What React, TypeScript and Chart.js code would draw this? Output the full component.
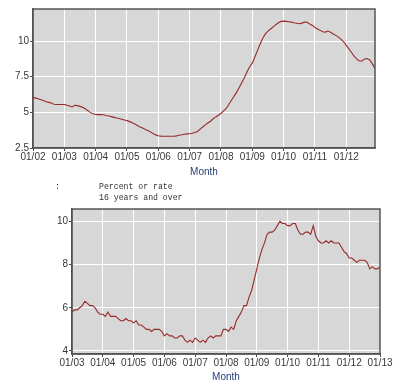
import React, { useEffect, useRef } from 'react';
import { Chart, registerables } from 'chart.js';

Chart.register(...registerables);

// ---------- Data ----------
function monthLabels(startYear: number, count: number): string[] {
  const out: string[] = [];
  for (let i = 0; i < count; i++) {
    const y = startYear + Math.floor(i / 12);
    const m = (i % 12) + 1;
    out.push(`${y}-${m < 10 ? '0' + m : m}`);
  }
  return out;
}

// Top chart: Jan 2002 - Dec 2012 (monthly)
const topMonths = monthLabels(2002, 132);
const topSeries = [
  // 2002
  6.05, 6.0, 5.95, 5.88, 5.83, 5.75, 5.7, 5.65, 5.57, 5.55, 5.55, 5.55,
  // 2003
  5.55, 5.5, 5.45, 5.38, 5.5, 5.47, 5.42, 5.35, 5.25, 5.12, 4.98, 4.9,
  // 2004
  4.85, 4.84, 4.84, 4.83, 4.78, 4.74, 4.7, 4.65, 4.6, 4.57, 4.52, 4.47,
  // 2005
  4.42, 4.35, 4.27, 4.18, 4.08, 3.98, 3.9, 3.8, 3.72, 3.63, 3.52, 3.42,
  // 2006
  3.36, 3.33, 3.32, 3.32, 3.32, 3.32, 3.32, 3.35, 3.4, 3.43, 3.46, 3.49,
  // 2007
  3.5, 3.53, 3.58, 3.66, 3.82, 3.97, 4.12, 4.25, 4.38, 4.55, 4.68, 4.8,
  // 2008
  4.92, 5.1, 5.27, 5.55, 5.85, 6.12, 6.42, 6.75, 7.1, 7.45, 7.85, 8.2,
  // 2009
  8.45, 8.9, 9.35, 9.8, 10.2, 10.5, 10.7, 10.85, 11.0, 11.15, 11.28, 11.38,
  // 2010
  11.4, 11.38, 11.36, 11.33, 11.28, 11.25, 11.22, 11.26, 11.33, 11.32, 11.2, 11.1,
  // 2011
  10.95, 10.85, 10.75, 10.65, 10.63, 10.7, 10.62, 10.5, 10.4, 10.28, 10.12, 9.95,
  // 2012
  9.7, 9.45, 9.2, 8.95, 8.75, 8.6, 8.6, 8.75, 8.78, 8.68, 8.4, 8.08,
];
const topXTickLabels = ['01/02', '01/03', '01/04', '01/05', '01/06', '01/07', '01/08', '01/09', '01/10', '01/11', '01/12'];
const topYTicks = [2.5, 5, 7.5, 10];
const topYTickLabels = ['2.5', '5', '7.5', '10'];

// Bottom chart: Jan 2003 - Jan 2013 (monthly)
const bottomMonths = monthLabels(2003, 121);
const bottomSeries = [
  // 2003
  5.8, 5.9, 5.9, 6.0, 6.1, 6.3, 6.2, 6.1, 6.1, 6.0, 5.8, 5.7,
  // 2004
  5.7, 5.6, 5.8, 5.6, 5.6, 5.6, 5.5, 5.4, 5.4, 5.5, 5.4, 5.4,
  // 2005
  5.3, 5.4, 5.2, 5.2, 5.1, 5.0, 5.0, 4.9, 5.0, 5.0, 5.0, 4.9,
  // 2006
  4.7, 4.8, 4.7, 4.7, 4.6, 4.6, 4.7, 4.7, 4.5, 4.4, 4.5, 4.4,
  // 2007
  4.6, 4.5, 4.4, 4.5, 4.4, 4.6, 4.7, 4.6, 4.7, 4.7, 4.7, 5.0,
  // 2008
  5.0, 4.9, 5.1, 5.0, 5.4, 5.6, 5.8, 6.1, 6.1, 6.5, 6.8, 7.3,
  // 2009
  7.8, 8.3, 8.7, 9.0, 9.4, 9.5, 9.5, 9.6, 9.8, 10.0, 9.9, 9.9,
  // 2010
  9.8, 9.8, 9.9, 9.9, 9.6, 9.4, 9.4, 9.5, 9.5, 9.4, 9.8, 9.3,
  // 2011
  9.1, 9.0, 9.0, 9.1, 9.0, 9.1, 9.0, 9.0, 9.0, 8.8, 8.6, 8.5,
  // 2012
  8.3, 8.3, 8.2, 8.1, 8.2, 8.2, 8.2, 8.1, 7.8, 7.9, 7.8, 7.8,
  // 2013
  7.9,
];
const bottomXTickLabels = ['01/03', '01/04', '01/05', '01/06', '01/07', '01/08', '01/09', '01/10', '01/11', '01/12', '01/13'];
const bottomYTicks = [4, 6, 8, 10];
const bottomYTickLabels = ['4', '6', '8', '10'];

const noteLines = ['Percent or rate', '16 years and over'];

// ---------- Styling ----------
const FONT = '"Liberation Sans", Arial, sans-serif';
const LINE_COLOR = '#992a2a';
const PLOT_BG = '#d7d7d7';
const AXIS_COLOR = '#4a4a4a';
const TICK_TEXT = '#383838';
const TITLE_COLOR = '#233d78';

const plotFrame = {
  id: 'plotFrame',
  beforeDraw(chart: any) {
    const { ctx, chartArea } = chart;
    const { left, top, right, bottom } = chartArea;
    ctx.save();
    ctx.fillStyle = PLOT_BG;
    ctx.fillRect(left, top, right - left, bottom - top);
    ctx.restore();
  },
  afterDraw(chart: any) {
    const { ctx, chartArea } = chart;
    const { left, top, right, bottom } = chartArea;
    ctx.save();
    ctx.strokeStyle = '#555555';
    ctx.lineWidth = 1.5;
    ctx.strokeRect(left, top, right - left, bottom - top);
    ctx.restore();
  },
};

interface Spec {
  months: string[];
  series: number[];
  xTickLabels: string[];
  yTicks: number[];
  yTickLabels: string[];
  xMax: number;
  yMin: number;
  yMax: number;
  width: number;
  height: number;
  padTop: number;
  padRight: number;
  yAxisWidth: number;
  xAxisHeight: number;
  titlePadBottom: number;
}

function makeConfig(s: Spec): any {
  return {
    type: 'line',
    data: {
      labels: s.months,
      datasets: [
        {
          label: 'rate',
          data: s.series.map((v, i) => ({ x: i, y: v })),
          borderColor: LINE_COLOR,
          borderWidth: 1.1,
          pointRadius: 0,
          tension: 0,
          fill: false,
        },
      ],
    },
    options: {
      responsive: false,
      maintainAspectRatio: false,
      animation: false,
      devicePixelRatio: 1,
      layout: { padding: { left: 0, top: s.padTop, right: s.padRight, bottom: 0 } },
      plugins: { legend: { display: false }, tooltip: { enabled: false } },
      scales: {
        x: {
          type: 'linear',
          min: 0,
          max: s.xMax,
          afterFit: (sc: any) => {
            sc.height = s.xAxisHeight;
          },
          ticks: {
            stepSize: 12,
            includeBounds: false,
            autoSkip: false,
            maxRotation: 0,
            padding: 1,
            color: TICK_TEXT,
            font: { family: FONT, size: 10, lineHeight: 1 },
            callback: (v: number) => s.xTickLabels[Math.round(v / 12)] ?? '',
          },
          grid: { color: '#ffffff', lineWidth: 1, tickLength: 3, tickColor: AXIS_COLOR },
          border: { color: AXIS_COLOR, width: 1.5 },
          title: {
            display: true,
            text: 'Month',
            color: TITLE_COLOR,
            font: { family: FONT, size: 10 },
            padding: { top: 0, bottom: s.titlePadBottom },
          },
        },
        y: {
          type: 'linear',
          min: s.yMin,
          max: s.yMax,
          afterFit: (sc: any) => {
            sc.width = s.yAxisWidth;
          },
          afterBuildTicks: (sc: any) => {
            sc.ticks = s.yTicks.map((v) => ({ value: v }));
          },
          ticks: {
            padding: 1,
            color: TICK_TEXT,
            font: { family: FONT, size: 10, lineHeight: 1 },
            callback: (v: number) => {
              const idx = s.yTicks.findIndex((t) => Math.abs(t - v) < 1e-6);
              return idx >= 0 ? s.yTickLabels[idx] : '';
            },
          },
          grid: { color: '#ffffff', lineWidth: 1, tickLength: 3, tickColor: AXIS_COLOR },
          border: { color: AXIS_COLOR, width: 1.5 },
        },
      },
    },
    plugins: [plotFrame],
  };
}

function LineChart({ spec, left, top }: { spec: Spec; left: number; top: number }) {
  const ref = useRef<HTMLCanvasElement | null>(null);
  useEffect(() => {
    if (!ref.current) return;
    const chart = new Chart(ref.current, makeConfig(spec));
    return () => chart.destroy();
  }, [spec]);
  return (
    <canvas
      ref={ref}
      width={spec.width}
      height={spec.height}
      style={{ position: 'absolute', left, top, width: spec.width, height: spec.height }}
    />
  );
}

const topSpec: Spec = {
  months: topMonths,
  series: topSeries,
  xTickLabels: topXTickLabels,
  yTicks: topYTicks,
  yTickLabels: topYTickLabels,
  xMax: 131,
  yMin: 2.5,
  yMax: 12.25,
  width: 409,
  height: 182,
  padTop: 9,
  padRight: 34,
  yAxisWidth: 33,
  xAxisHeight: 34,
  titlePadBottom: 4,
};

const bottomSpec: Spec = {
  months: bottomMonths,
  series: bottomSeries,
  xTickLabels: bottomXTickLabels,
  yTicks: bottomYTicks,
  yTickLabels: bottomYTickLabels,
  xMax: 120,
  yMin: 3.86,
  yMax: 10.57,
  width: 409,
  height: 189,
  padTop: 9,
  padRight: 29,
  yAxisWidth: 72,
  xAxisHeight: 35,
  titlePadBottom: 6,
};

const monoStyle: React.CSSProperties = {
  position: 'absolute',
  top: 181,
  fontFamily: '"Liberation Mono", "Courier New", monospace',
  fontSize: 8.2,
  lineHeight: '11px',
  color: '#333333',
  whiteSpace: 'pre',
};

export default function App() {
  return (
    <div
      style={{
        position: 'absolute',
        left: 0,
        top: 0,
        width: 409,
        height: 389,
        background: '#ffffff',
        overflow: 'hidden',
      }}
    >
      <LineChart spec={topSpec} left={0} top={0} />
      <div style={{ ...monoStyle, left: 55 }}>:</div>
      <div style={{ ...monoStyle, left: 99 }}>
        {noteLines.map((t, i) => (
          <div key={i}>{t}</div>
        ))}
      </div>
      <LineChart spec={bottomSpec} left={0} top={200} />
    </div>
  );
}
